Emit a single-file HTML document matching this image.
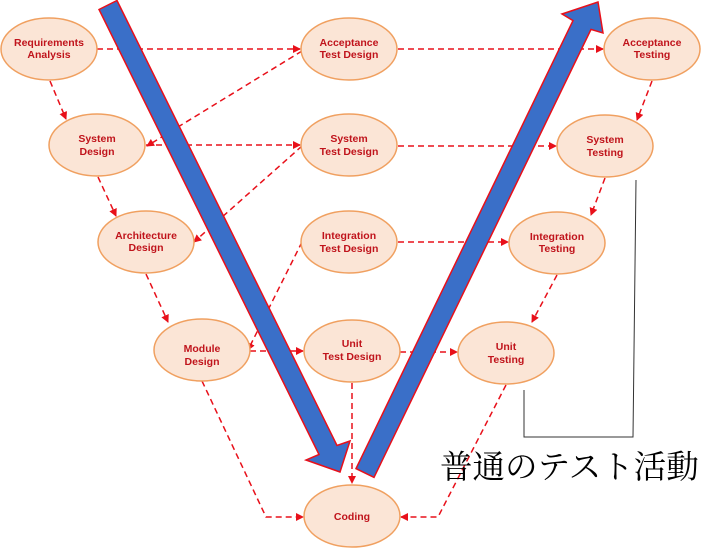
<!DOCTYPE html>
<html><head><meta charset="utf-8"><style>body{margin:0;background:#fff}</style></head><body>
<svg width="702" height="551" viewBox="0 0 702 551" xmlns="http://www.w3.org/2000/svg">
<defs><marker id="a" markerWidth="8" markerHeight="8" refX="7" refY="4" orient="auto" markerUnits="userSpaceOnUse"><path d="M0,0L8,4L0,8z" fill="#e8101a"/></marker></defs>
<g stroke="#e8101a" stroke-width="1.5" stroke-dasharray="6,4" fill="none" marker-end="url(#a)">
<line x1="97" y1="49" x2="300" y2="49"/>
<line x1="398" y1="49" x2="603" y2="49"/>
<line x1="50" y1="81" x2="66" y2="119"/>
<line x1="302" y1="51" x2="147" y2="146"/>
<line x1="146" y1="145" x2="300" y2="145"/>
<line x1="398" y1="146" x2="556" y2="146"/>
<line x1="652" y1="81" x2="637" y2="120"/>
<line x1="98" y1="177" x2="116" y2="216"/>
<line x1="302" y1="146" x2="194" y2="242"/>
<line x1="398" y1="242" x2="508" y2="242"/>
<line x1="605" y1="178" x2="591" y2="215"/>
<line x1="146" y1="274" x2="168" y2="322"/>
<line x1="302" y1="242" x2="248" y2="350"/>
<line x1="250" y1="351" x2="303" y2="351"/>
<line x1="400" y1="352" x2="457" y2="352"/>
<line x1="557" y1="275" x2="532" y2="322"/>
<line x1="352" y1="383" x2="352" y2="483"/>
<path d="M202,381 L266,517 L303,517"/>
<path d="M506,385 L438,517 L401,517"/>
</g>
<g fill="#fbe5d6" stroke="#f0a060" stroke-width="1.5">
<ellipse cx="49" cy="49" rx="48" ry="31"/>
<ellipse cx="349" cy="49" rx="48" ry="31"/>
<ellipse cx="652" cy="49" rx="48" ry="31"/>
<ellipse cx="97" cy="145" rx="48" ry="31"/>
<ellipse cx="349" cy="145" rx="48" ry="31"/>
<ellipse cx="605" cy="146" rx="48" ry="31"/>
<ellipse cx="146" cy="242" rx="48" ry="31"/>
<ellipse cx="349" cy="242" rx="48" ry="31"/>
<ellipse cx="557" cy="243" rx="48" ry="31"/>
<ellipse cx="202" cy="350" rx="48" ry="31"/>
<ellipse cx="352" cy="351" rx="48" ry="31"/>
<ellipse cx="506" cy="353" rx="48" ry="31"/>
<ellipse cx="352" cy="516" rx="48" ry="31"/>
</g>
<g font-family="Liberation Sans, sans-serif" font-size="10.5" font-weight="bold" fill="#c0141c" text-anchor="middle">
<text x="49" y="46">Requirements</text><text x="49" y="58">Analysis</text>
<text x="349" y="46">Acceptance</text><text x="349" y="58">Test Design</text>
<text x="652" y="46">Acceptance</text><text x="652" y="58">Testing</text>
<text x="97" y="142">System</text><text x="97" y="155">Design</text>
<text x="349" y="142">System</text><text x="349" y="155">Test Design</text>
<text x="605" y="143">System</text><text x="605" y="156">Testing</text>
<text x="146" y="239">Architecture</text><text x="146" y="251">Design</text>
<text x="349" y="239">Integration</text><text x="349" y="252">Test Design</text>
<text x="557" y="240">Integration</text><text x="557" y="252">Testing</text>
<text x="202" y="352">Module</text><text x="202" y="365">Design</text>
<text x="352" y="347">Unit</text><text x="352" y="360">Test Design</text>
<text x="506" y="350">Unit</text><text x="506" y="363">Testing</text>
<text x="352" y="520">Coding</text>
</g>
<g fill="#3a6fc8" stroke="#e8101a" stroke-width="1.5" stroke-linejoin="miter">
<path d="M99,9.5 L117,0.5 L337,445.5 L350,441 L340,472 L306,460 L319,454.5 Z"/>
<path d="M356,468.6 L573,20.6 L562,14 L598,2 L603,33 L591,29.4 L374,477.4 Z"/>
</g>
<path d="M524,390 L524,437 L633,437 L636,180" fill="none" stroke="#333" stroke-width="1"/>
<text x="440" y="478" font-family="Liberation Serif, 'Noto Serif CJK SC', serif" font-size="32.5" fill="#000">普通のテスト活動</text>
</svg>
</body></html>
